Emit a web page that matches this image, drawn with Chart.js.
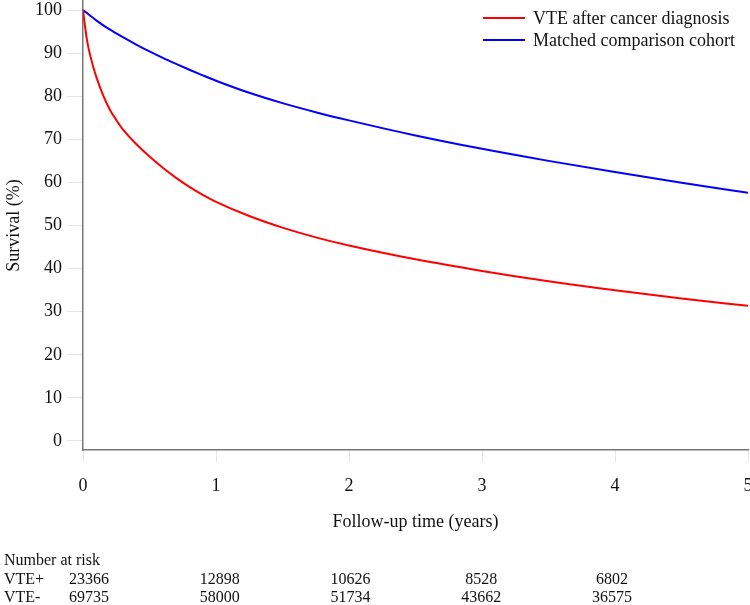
<!DOCTYPE html>
<html>
<head>
<meta charset="utf-8">
<script src="https://cdn.jsdelivr.net/npm/chart.js@4"></script>
<style>
  html, body { margin: 0; padding: 0; background: #fff; }
  #wrap { width: 750px; height: 605px; position: relative; }
</style>
</head>
<body>
<div id="wrap"><canvas id="km"></canvas></div>
<script>
// follow-up time points (years)
var years = [0, 0.01, 0.03, 0.05, 0.08, 0.1, 0.15, 0.2, 0.25, 0.3, 0.4, 0.5, 0.6, 0.7, 0.8, 0.9, 1, 1.25, 1.5, 1.75, 2, 2.5, 3, 3.5, 4, 4.5, 5];
// survival (%)
var vteSurvival = [100, 97.5, 93, 90, 86.5, 84.5, 80.3, 77, 74.5, 72.3, 68.9, 66, 63.4, 61.05, 58.95, 57.1, 55.5, 52.2, 49.5, 47.25, 45.35, 42.15, 39.45, 37.05, 34.95, 33.05, 31.35];
var matchedSurvival = [100, 99.75, 99.3, 98.8, 98.1, 97.6, 96.5, 95.5, 94.6, 93.7, 92, 90.4, 88.9, 87.5, 86.15, 84.85, 83.6, 80.8, 78.4, 76.3, 74.4, 70.9, 67.8, 65, 62.4, 59.9, 57.6];
var seriesNames = ['VTE after cancer diagnosis', 'Matched comparison cohort'];
var seriesColors = ['#ff0000', '#0000ff'];
var yTicks = [0, 10, 20, 30, 40, 50, 60, 70, 80, 90, 100];
var xTicks = [0, 1, 2, 3, 4, 5];
// number at risk table
var riskLabels = ['VTE+', 'VTE-'];
var riskVtePlus = [23366, 12898, 10626, 8528, 6802];
var riskVteMinus = [69735, 58000, 51734, 43662, 36575];

var serif = "'Liberation Serif', 'Times New Roman', serif";
var ink = '#111';

function toPoints(ys) {
  return years.map(function (x, i) { return { x: x, y: ys[i] }; });
}

var overlay = {
  id: 'overlay',
  afterDraw: function (chart) {
    var ctx = chart.ctx, xs = chart.scales.x;
    ctx.save();
    // legend, top right
    ctx.font = '18px ' + serif;
    ctx.textBaseline = 'middle';
    ctx.textAlign = 'left';
    chart.data.datasets.forEach(function (ds, i) {
      var y = 18 + i * 22;
      ctx.strokeStyle = ds.borderColor;
      ctx.lineWidth = 2;
      ctx.beginPath(); ctx.moveTo(483, y); ctx.lineTo(525, y); ctx.stroke();
      ctx.fillStyle = ink;
      ctx.fillText(ds.label, 533, y + 1);
    });
    // number at risk
    ctx.font = '16px ' + serif;
    ctx.fillText('Number at risk', 4, 561);
    var rows = [riskVtePlus, riskVteMinus];
    rows.forEach(function (row, r) {
      var y = 580 + r * 18;
      ctx.textAlign = 'left';
      ctx.fillText(riskLabels[r], 4, y);
      ctx.textAlign = 'center';
      row.forEach(function (n, i) {
        var cx = xs.getPixelForValue(0) + 6 + i * 130.75;
        ctx.fillText(String(n), cx, y);
      });
    });
    ctx.restore();
  }
};

new Chart(document.getElementById('km'), {
  type: 'line',
  data: {
    datasets: [
      { label: seriesNames[0], data: toPoints(vteSurvival), borderColor: seriesColors[0], backgroundColor: seriesColors[0] },
      { label: seriesNames[1], data: toPoints(matchedSurvival), borderColor: seriesColors[1], backgroundColor: seriesColors[1] }
    ]
  },
  options: {
    responsive: true,
    maintainAspectRatio: false,
    animation: false,
    elements: {
      point: { radius: 0 },
      line: { borderWidth: 2, cubicInterpolationMode: 'monotone' }
    },
    layout: { padding: { top: 1, right: 2, bottom: 70, left: 0 } },
    plugins: { legend: { display: false }, tooltip: { enabled: false } },
    scales: {
      x: {
        type: 'linear', min: 0, max: 5,
        afterBuildTicks: function (s) { s.ticks = xTicks.map(function (v) { return { value: v }; }); },
        afterFit: function (s) { s.height = 85; s.paddingLeft = 0; s.paddingRight = 0; },
        grid: { drawOnChartArea: false, drawTicks: true, tickLength: 12, color: '#e6e6e6' },
        border: { color: '#777', width: 1.5 },
        ticks: { padding: 13, color: ink, font: { family: serif, size: 18 }, maxRotation: 0 },
        title: { display: true, text: 'Follow-up time (years)', color: ink, font: { family: serif, size: 18 }, padding: { top: 0, bottom: 2 } }
      },
      y: {
        min: -2.1, max: 102.1,
        afterBuildTicks: function (s) { s.ticks = yTicks.map(function (v) { return { value: v }; }); },
        afterFit: function (s) { s.width = 83; s.paddingTop = 0; s.paddingBottom = 0; },
        grid: { drawOnChartArea: false, drawTicks: true, tickLength: 16, color: '#e6e6e6' },
        border: { color: '#777', width: 1.5 },
        ticks: { padding: 5, color: ink, font: { family: serif, size: 18 } },
        title: { display: true, text: 'Survival (%)', color: ink, font: { family: serif, size: 18 }, padding: { top: 3, bottom: 0 } }
      }
    }
  },
  plugins: [overlay]
});
</script>
</body>
</html>
